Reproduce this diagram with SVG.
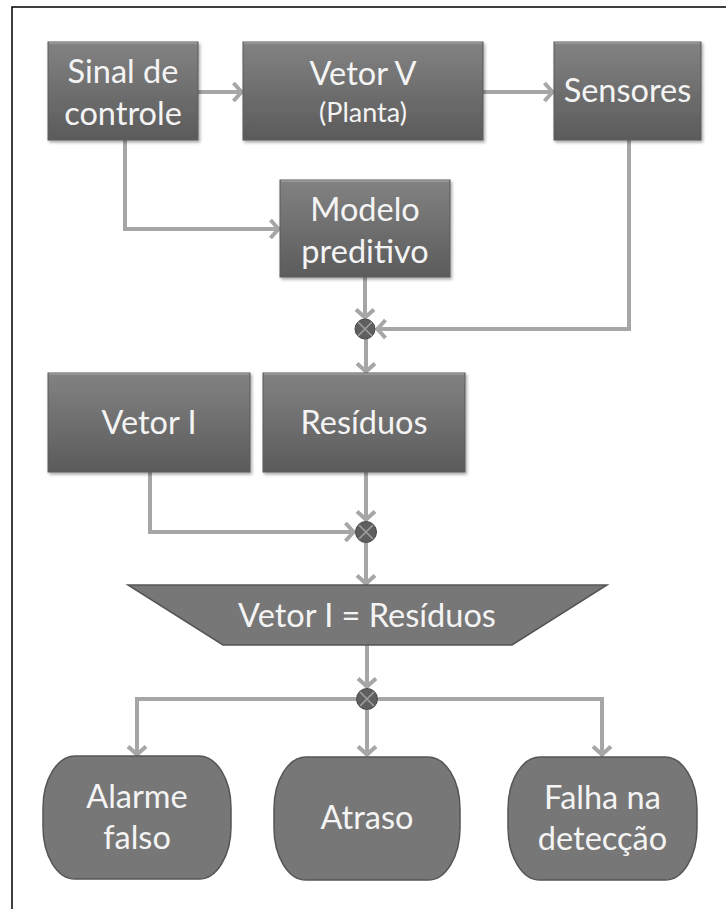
<svg xmlns="http://www.w3.org/2000/svg" width="726" height="909" viewBox="0 0 726 909">
<defs>
<style>
.box{fill:url(#g);stroke:#5a5a5a;stroke-width:1;filter:url(#sh)}
.hl{stroke:#9c9c9c;stroke-width:1.5}
.flat{fill:#777777;stroke:#555555;stroke-width:1.5}
.t{font-family:Lato,"Open Sans","DejaVu Sans",sans-serif;font-size:32.5px;fill:#f4f4f4;text-anchor:middle}
.ts{font-size:27px}
.c{fill:none;stroke:#a6a6a6;stroke-width:4;marker-end:url(#ah)}
.sum{fill:#5f5f5f;stroke:#474747;stroke-width:1}
.x{stroke:#9e9e9e;stroke-width:1.6}
</style>
<linearGradient id="g" x1="0" y1="0" x2="0" y2="1">
<stop offset="0" stop-color="#828282"/>
<stop offset="1" stop-color="#5b5b5b"/>
</linearGradient>
<filter id="sh" x="-10%" y="-10%" width="125%" height="130%">
<feDropShadow dx="1.5" dy="2" stdDeviation="1.5" flood-color="#000" flood-opacity="0.35"/>
</filter>
<marker id="ah" markerUnits="userSpaceOnUse" markerWidth="24" markerHeight="24" viewBox="-14 -12 16 24" refX="0" refY="0" orient="auto" overflow="visible">
<path d="M-9.5,-9 L-1.5,0 L-9.5,9" fill="none" stroke="#a6a6a6" stroke-width="4"/>
</marker>
</defs>
<rect x="12" y="7" width="740" height="930" fill="#ffffff" stroke="#000000" stroke-width="1.5"/>

<g id="connectors">
<path class="c" d="M198,92 H243"/>
<path class="c" d="M483,92 H554"/>
<path class="c" d="M125,140 V229 H280"/>
<path class="c" d="M365,277 V319"/>
<path class="c" d="M629,140 V329 H376"/>
<path class="c" d="M366,339 V373"/>
<path class="c" d="M366,472 V521"/>
<path class="c" d="M150,472 V532 H355"/>
<path class="c" d="M366,543 V585"/>
<path class="c" d="M367,645 V688"/>
<path class="c" d="M356,699 H137 V756"/>
<path class="c" d="M378,699 H602 V756"/>
<path class="c" d="M367,710 V756"/>
</g>

<g id="sinal">
<rect class="box" x="48" y="42" width="150" height="98"/>
<line class="hl" x1="49" y1="43" x2="197" y2="43"/>
<text class="t" x="123" y="83">Sinal de</text>
<text class="t" x="123" y="125">controle</text>
</g>
<g id="vetorV">
<rect class="box" x="243" y="42" width="240" height="98"/>
<line class="hl" x1="244" y1="43" x2="482" y2="43"/>
<text class="t" x="363" y="85">Vetor V</text>
<text class="t ts" x="363" y="122">(Planta)</text>
</g>
<g id="sensores">
<rect class="box" x="554" y="42" width="147" height="98"/>
<line class="hl" x1="555" y1="43" x2="700" y2="43"/>
<text class="t" x="627.5" y="102">Sensores</text>
</g>
<g id="modelo">
<rect class="box" x="280" y="180" width="170" height="97"/>
<line class="hl" x1="281" y1="181" x2="449" y2="181"/>
<text class="t" x="365" y="221">Modelo</text>
<text class="t" x="365" y="263">preditivo</text>
</g>
<g id="soma1">
<circle class="sum" cx="365" cy="329" r="10"/>
<path class="x" d="M358,322 L372,336 M372,322 L358,336"/>
</g>
<g id="vetorI">
<rect class="box" x="48" y="373" width="202" height="99"/>
<line class="hl" x1="49" y1="374" x2="249" y2="374"/>
<text class="t" x="149" y="434">Vetor I</text>
</g>
<g id="residuos">
<rect class="box" x="263" y="373" width="202" height="99"/>
<line class="hl" x1="264" y1="374" x2="464" y2="374"/>
<text class="t" x="364" y="434">Resíduos</text>
</g>
<g id="soma2">
<circle class="sum" cx="366" cy="532" r="10.5"/>
<path class="x" d="M359,525 L373,539 M373,525 L359,539"/>
</g>
<g id="comparacao">
<polygon class="flat" points="128,585 607,585 512,645 223,645"/>
<text class="t" x="367" y="627">Vetor I = Resíduos</text>
</g>
<g id="soma3">
<circle class="sum" cx="367" cy="699" r="10.5"/>
<path class="x" d="M360,692 L374,706 M374,692 L360,706"/>
</g>
<g id="alarme">
<rect class="flat" x="43" y="756" width="188" height="123" rx="32" ry="52"/>
<text class="t" x="137" y="808">Alarme</text>
<text class="t" x="137" y="849">falso</text>
</g>
<g id="atraso">
<rect class="flat" x="274" y="757" width="186" height="123" rx="32" ry="52"/>
<text class="t" x="367" y="829">Atraso</text>
</g>
<g id="falha">
<rect class="flat" x="508" y="757" width="189" height="123" rx="32" ry="52"/>
<text class="t" x="602.5" y="809">Falha na</text>
<text class="t" x="602.5" y="850">detecção</text>
</g>
</svg>
